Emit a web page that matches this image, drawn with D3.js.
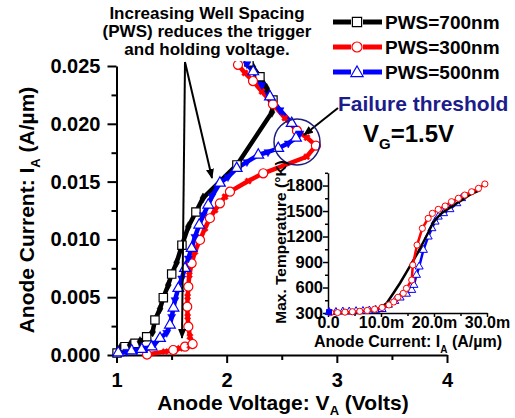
<!DOCTYPE html>
<html><head><meta charset="utf-8">
<script src="https://cdn.jsdelivr.net/npm/d3@7"></script>
<style>
body{margin:0;background:#fff}
svg text{font-family:"Liberation Sans",Arial,sans-serif;font-weight:bold}
</style>
</head><body>
<svg id="c" width="515" height="418"></svg>
<script>
// ---------- DATA (main plot: [Anode voltage V, Anode current A/um]) ----------
const pws700 = [[1.005,0.00017],[1.032,0.00058],[1.077,0.00072],[1.123,0.00087],[1.168,0.00101],[1.213,0.00115],
  [1.274,0.00158],[1.328,0.0020],[1.349,0.00303],[1.395,0.0040],[1.425,0.00496],[1.470,0.00606],[1.501,0.0070],
  [1.546,0.0080],[1.594,0.0095],[1.652,0.0111],[1.721,0.01237],[1.785,0.01358],[2.093,0.01644],[2.411,0.0210],
  [2.420,0.02206],[2.363,0.02307],[2.302,0.02407],[2.239,0.02491],[2.202,0.02535]];
const pws300 = [[1.277,0.00004],[1.440,0.00029],[1.515,0.00043],[1.576,0.00058],[1.622,0.00072],[1.667,0.0008],
  [1.691,0.00095],[1.667,0.00158],[1.652,0.00245],[1.646,0.00331],[1.642,0.00418],[1.646,0.00504],[1.652,0.00591],
  [1.661,0.00692],[1.682,0.00793],[1.712,0.00894],[1.758,0.00995],[1.803,0.01096],[1.848,0.01183],[1.894,0.01254],
  [1.939,0.01312],[1.985,0.01369],[2.030,0.01413],[2.196,0.01505],[2.332,0.01572],[2.726,0.01715],[2.810,0.01811],
  [2.729,0.01880],[2.638,0.01940],[2.529,0.02050],[2.420,0.02170],[2.320,0.02280],[2.239,0.02370],[2.166,0.02440],
  [2.103,0.02510]];
const pws500 = [[1.016,0.0002],[1.093,0.00029],[1.138,0.00037],[1.183,0.00043],[1.229,0.00049],[1.274,0.00058],
  [1.319,0.00072],[1.349,0.00101],[1.395,0.00144],[1.456,0.00193],[1.485,0.0026],[1.501,0.00331],[1.517,0.00407],
  [1.531,0.00476],[1.561,0.00577],[1.592,0.00663],[1.622,0.0075],[1.652,0.00836],[1.682,0.00923],[1.712,0.01023],
  [1.751,0.01125],[1.788,0.01211],[1.833,0.01298],[1.867,0.01375],[1.939,0.01488],[2.012,0.0154],[2.091,0.01615],
  [2.184,0.0167],[2.287,0.0173],[2.375,0.01756],[2.468,0.01788],[2.559,0.01831],[2.629,0.01877],[2.665,0.01918],
  [2.590,0.02004],[2.484,0.02119],[2.393,0.02234],[2.318,0.02336],[2.241,0.02451],[2.184,0.02517]];

// ---------- DATA (inset: [Anode current A/um, Max temperature K]) ----------
const temp700 = [[0.0003,300],[0.005,310],[0.008,330],[0.010,365],[0.0111,418],[0.0123,530],[0.0136,653],[0.0147,770],
  [0.0158,888],[0.0169,1005],[0.0179,1124],[0.0189,1245],[0.0198,1359],[0.0207,1430],[0.0215,1476],[0.023,1540],
  [0.025,1620],[0.027,1700],[0.0287,1747]];
const temp300 = [[0.0005,305],[0.0018,305],[0.0032,310],[0.0046,315],[0.006,320],[0.0074,330],[0.0088,345],
  [0.0102,365],[0.0115,395],[0.0124,430],[0.0132,485],[0.0142,532],[0.0148,590],[0.0158,688],[0.0160,865],
  [0.0168,1100],[0.0178,1296],[0.0189,1414],[0.0197,1473],[0.0208,1520],[0.0221,1559],[0.0233,1610],[0.0246,1650],
  [0.0258,1688],[0.0271,1727],[0.0284,1767],[0.0296,1818]];
const temp500 = [[0.0002,310],[0.0015,310],[0.0028,315],[0.004,315],[0.0053,320],[0.0066,322],[0.0078,328],
  [0.009,335],[0.0102,345],[0.0114,395],[0.0126,440],[0.0136,480],[0.0148,525],[0.0158,570],[0.0162,629],
  [0.0167,747],[0.0172,845],[0.0180,1041],[0.0189,1198],[0.0196,1296],[0.0202,1374],[0.0208,1433],[0.0218,1473],
  [0.0230,1520],[0.0243,1590],[0.0252,1650]];

// ---------- TICKS / LABELS ----------
const xMajor = [1,2,3,4];
const xMinor = [1.5,2.5,3.5];
const yMajor = [0,0.005,0.010,0.015,0.020,0.025];
const yMinor = [0.0025,0.0075,0.0125,0.0175,0.0225];
const ixMajor = [0,0.01,0.02,0.03];
const ixLabels = ["0.0","10.0m","20.0m","30.0m"];
const ixMinor = [0.005,0.015,0.025];
const iyMajor = [300,600,900,1200,1500,1800];
const iyMinor = [450,750,1050,1350,1650,1950];
const seriesNames = ["PWS=700nm","PWS=300nm","PWS=500nm"];
const seriesColors = ["#000000","#ff0000","#0000ff"];
const noteLines = ["Increasing Well Spacing","(PWS) reduces the trigger","and holding voltage."];

// ---------- DRAW ----------
const F = '"Liberation Sans", Arial, sans-serif';
const svg = d3.select("#c");
svg.append("rect").attr("width",515).attr("height",418).attr("fill","#fff");
const defs = svg.append("defs");
defs.append("clipPath").attr("id","clipM").append("rect").attr("x",110).attr("y",61).attr("width",350).attr("height",300);
defs.append("marker").attr("id","arr").attr("viewBox","0 0 10 8").attr("refX",9).attr("refY",4)
  .attr("markerWidth",10).attr("markerHeight",8).attr("markerUnits","userSpaceOnUse").attr("orient","auto")
  .append("path").attr("d","M0,0 L10,4 L0,8 z").attr("fill","#000");

const xM = d3.scaleLinear().domain([1,4]).range([116.5,447]);
const yM = d3.scaleLinear().domain([0,0.025]).range([355,66]);

function styleAxis(g, size){
  g.attr("font-family",F).attr("font-weight","bold").attr("font-size",size);
  g.selectAll("path.domain").attr("stroke-width",2);
  g.selectAll(".tick line").attr("stroke-width",2);
}
// main x axis
const gxm = svg.append("g").attr("transform","translate(0,355)");
gxm.call(d3.axisBottom(xM).tickValues(xMinor).tickSize(5).tickSizeOuter(0).tickFormat(""));
gxm.select("path.domain").remove();
gxm.selectAll(".tick line").attr("stroke-width",2);
const gx = svg.append("g").attr("transform","translate(0,355)")
  .call(d3.axisBottom(xM).tickValues(xMajor).tickSize(8).tickSizeOuter(0).tickPadding(10).tickFormat(d3.format("d")));
styleAxis(gx,20);
// main y axis
const gym = svg.append("g").attr("transform","translate(116.5,0)");
gym.call(d3.axisLeft(yM).tickValues(yMinor).tickSize(5).tickSizeOuter(0).tickFormat(""));
gym.select("path.domain").remove();
gym.selectAll(".tick line").attr("stroke-width",2);
const gy = svg.append("g").attr("transform","translate(116.5,0)")
  .call(d3.axisLeft(yM).tickValues(yMajor).tickSize(9).tickSizeOuter(0).tickPadding(7).tickFormat(d3.format(".3f")));
styleAxis(gy,20);

// axis titles
const xt = svg.append("text").attr("x",283).attr("y",410).attr("text-anchor","middle").attr("font-size",21);
xt.append("tspan").text("Anode Voltage: V");
xt.append("tspan").attr("font-size",13).attr("dy",5).text("A");
xt.append("tspan").attr("dy",-5).text(" (Volts)");
const yt = svg.append("text").attr("transform","translate(34,210) rotate(-90)").attr("text-anchor","middle").attr("font-size",21);
yt.append("tspan").text("Anode Current: I");
yt.append("tspan").attr("font-size",13).attr("dy",6).text("A");
yt.append("tspan").attr("dy",-6).text(" (A/\u00b5m)");

// main curves
const lineM = d3.line().x(d=>xM(d[0])).y(d=>yM(d[1]));
const gc = svg.append("g").attr("clip-path","url(#clipM)");
const mainSeries = [
  {data:pws700,color:seriesColors[0],open:d3.symbolSquare,openSize:70,filled:d3.symbolDiamond,filledSize:30,fRot:0},
  {data:pws300,color:seriesColors[1],open:d3.symbolCircle,openSize:64,filled:d3.symbolCross,filledSize:26,fRot:45},
  {data:pws500,color:seriesColors[2],open:d3.symbolTriangle,openSize:50,filled:d3.symbolTriangle,filledSize:28,fRot:180}
];
mainSeries.forEach(s=>{
  gc.append("path").datum(s.data).attr("d",lineM).attr("fill","none").attr("stroke",s.color)
    .attr("stroke-width",4.5).attr("stroke-linejoin","round");
});
mainSeries.forEach(s=>{
  const g = gc.append("g");
  g.selectAll("path").data(s.data).join("path")
    .attr("transform",(d,i)=>`translate(${xM(d[0])},${yM(d[1])}) rotate(${i%2?s.fRot:0})`)
    .attr("d",(d,i)=>d3.symbol().type(i%2?s.filled:s.open).size(i%2?s.filledSize:s.openSize)())
    .attr("fill",(d,i)=>i%2?s.color:"#fff")
    .attr("stroke",s.color).attr("stroke-width",(d,i)=>i%2?0.5:1.2);
});

// legend
const lg = svg.append("g");
mainSeries.forEach((s,k)=>{
  const yy = 22 + k*25;
  lg.append("line").attr("x1",333).attr("x2",351).attr("y1",yy).attr("y2",yy).attr("stroke",s.color).attr("stroke-width",5);
  lg.append("line").attr("x1",363).attr("x2",382).attr("y1",yy).attr("y2",yy).attr("stroke",s.color).attr("stroke-width",5);
  lg.append("path").attr("transform",`translate(357,${yy+(k==2?1:0)})`).attr("d",d3.symbol().type(s.open).size(s.openSize+15)())
    .attr("fill","#fff").attr("stroke",s.color).attr("stroke-width",1.2);
  lg.append("text").attr("x",385).attr("y",yy+7).attr("font-size",19).text(seriesNames[k]);
});

// annotation text + arrows
noteLines.forEach((t,k)=>{
  svg.append("text").attr("x",207).attr("y",19+k*17.8).attr("text-anchor","middle").attr("font-size",17).text(t);
});
const arrows = [[185,62,182,338],[185,62,212,178],[338,108,304,135]];
arrows.forEach(a=>{
  svg.append("line").attr("x1",a[0]).attr("y1",a[1]).attr("x2",a[2]).attr("y2",a[3])
    .attr("stroke","#000").attr("stroke-width",2).attr("marker-end","url(#arr)");
});
svg.append("circle").attr("cx",297).attr("cy",142).attr("r",23).attr("fill","none").attr("stroke","#1c1c7a").attr("stroke-width",1.5);
svg.append("text").attr("x",338).attr("y",111).attr("font-size",21).attr("fill","#1c1c8a").text("Failure threshold");
const vg = svg.append("text").attr("x",363).attr("y",142).attr("font-size",24);
vg.append("tspan").text("V");
vg.append("tspan").attr("font-size",15).attr("dy",7).text("G");
vg.append("tspan").attr("dy",-7).text("=1.5V");

// ---------- INSET ----------
const xI = d3.scaleLinear().domain([0,0.03]).range([328,487]);
const yI = d3.scaleLinear().domain([300,1950]).range([313,172.8]);
function thinAxis(g,size){
  g.attr("font-family",F).attr("font-weight","bold").attr("font-size",size);
  g.selectAll("path.domain").attr("stroke-width",1.5);
  g.selectAll(".tick line").attr("stroke-width",1.5);
}
const gixm = svg.append("g").attr("transform","translate(0,313)")
  .call(d3.axisBottom(xI).tickValues(ixMinor).tickSize(3).tickSizeOuter(0).tickFormat(""));
gixm.select("path.domain").remove(); gixm.selectAll(".tick line").attr("stroke-width",1.5);
const gix = svg.append("g").attr("transform","translate(0,313)")
  .call(d3.axisBottom(xI).tickValues(ixMajor).tickSize(4).tickSizeOuter(0).tickPadding(0).tickFormat((d,i)=>ixLabels[i]));
thinAxis(gix,16);
const giym = svg.append("g").attr("transform","translate(328,0)")
  .call(d3.axisLeft(yI).tickValues(iyMinor).tickSize(3).tickSizeOuter(0).tickFormat(""));
giym.select("path.domain").remove(); giym.selectAll(".tick line").attr("stroke-width",1.5);
const giy = svg.append("g").attr("transform","translate(328,0)")
  .call(d3.axisLeft(yI).tickValues(iyMajor).tickSize(5).tickSizeOuter(0).tickPadding(0).tickFormat(d3.format("d")));
thinAxis(giy,16.5);
const ixt = svg.append("text").attr("x",408).attr("y",347).attr("text-anchor","middle").attr("font-size",16);
ixt.append("tspan").text("Anode Current: I");
ixt.append("tspan").attr("font-size",10).attr("dy",6).text("A");
ixt.append("tspan").attr("dy",-6).text(" (A/\u00b5m)");
svg.append("text").attr("transform","translate(286,242) rotate(-90)").attr("text-anchor","middle").attr("font-size",15.5)
  .text("Max. Temperature (\u00b0K)");

const lineI = d3.line().x(d=>xI(d[0])).y(d=>yI(d[1]));
const insetSeries = [
  {data:temp500,color:seriesColors[2],sym:d3.symbolTriangle,size:28,markers:true},
  {data:temp700,color:seriesColors[0],sym:null,size:0,markers:false},
  {data:temp300,color:seriesColors[1],sym:d3.symbolCircle,size:30,markers:true}
];
insetSeries.forEach(s=>{
  svg.append("path").datum(s.data).attr("d",lineI).attr("fill","none").attr("stroke",s.color).attr("stroke-width",2.5);
  if(s.markers){
    svg.append("g").selectAll("path").data(s.data).join("path")
      .attr("transform",d=>`translate(${xI(d[0])},${yI(d[1])})`)
      .attr("d",d3.symbol().type(s.sym).size(s.size)())
      .attr("fill","#fff").attr("stroke",s.color).attr("stroke-width",1);
  }
});
// starting filled blue marker in inset
svg.append("path").datum(temp500[0]).attr("transform",d=>`translate(${xI(d[0])},${yI(d[1])})`)
  .attr("d",d3.symbol().type(d3.symbolSquare).size(36)()).attr("fill","#0000ff");
</script>
</body></html>
